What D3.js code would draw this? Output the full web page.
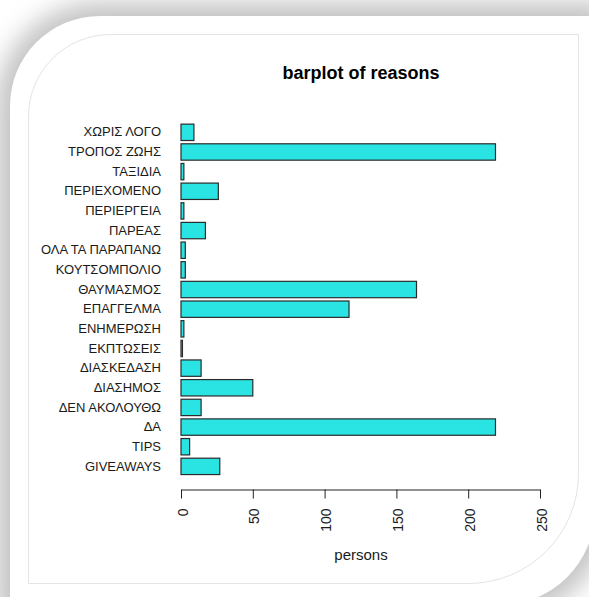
<!DOCTYPE html>
<html><head><meta charset="utf-8">
<script src="https://cdn.jsdelivr.net/npm/d3@7"></script>
<style>body{margin:0;background:#fff}svg{display:block}</style>
</head><body>
<script>
const categories = ["ΧΩΡΙΣ ΛΟΓΟ","ΤΡΟΠΟΣ ΖΩΗΣ","ΤΑΞΙΔΙΑ","ΠΕΡΙΕΧΟΜΕΝΟ","ΠΕΡΙΕΡΓΕΙΑ","ΠΑΡΕΑΣ","ΟΛΑ ΤΑ ΠΑΡΑΠΑΝΩ","ΚΟΥΤΣΟΜΠΟΛΙΟ","ΘΑΥΜΑΣΜΟΣ","ΕΠΑΓΓΕΛΜΑ","ΕΝΗΜΕΡΩΣΗ","ΕΚΠΤΩΣΕΙΣ","ΔΙΑΣΚΕΔΑΣΗ","ΔΙΑΣΗΜΟΣ","ΔΕΝ ΑΚΟΛΟΥΘΩ","ΔΑ","TIPS","GIVEAWAYS"];
const persons = [9,219,2,26,2,17,3,3,164,117,2,1,14,50,14,219,6,27];
const xTicks = [0,50,100,150,200,250];
const title = "barplot of reasons";
const xLabel = "persons";

const W = 589, H = 597;
const svg = d3.select("body").append("svg").attr("width", W).attr("height", H);
const defs = svg.append("defs");
const f = defs.append("filter").attr("id","sh").attr("x","-20%").attr("y","-20%").attr("width","140%").attr("height","140%");
f.append("feGaussianBlur").attr("stdDeviation", 12);

function frame(l, t, r, b, r1, r2) {
  return `M${l},${t+r1} A${r1},${r1} 0 0 1 ${l+r1},${t} L${r},${t} L${r},${b-r2} A${r2},${r2} 0 0 1 ${r-r2},${b} L${l},${b} Z`;
}
// shadow
svg.append("path").attr("d", frame(-4, 2, 609, 619, 104, 109)).attr("fill","#c4c4c4").attr("filter","url(#sh)");
// white card
svg.append("path").attr("d", frame(10, 16, 595, 605, 90, 95)).attr("fill","#fff");
// inner thin border
svg.append("path").attr("d", frame(28.5, 34.5, 578.5, 583.5, 82, 110)).attr("fill","none").attr("stroke","#e4e4e4").attr("stroke-width",1);

const x = d3.scaleLinear().domain([0,250]).range([181,540]);
const y = d3.scaleBand().domain(categories).range([122.5,476.2]).paddingInner(1/6).paddingOuter(1/12);

svg.append("g").selectAll("rect").data(categories).join("rect")
  .attr("x", x(0)).attr("y", d => y(d))
  .attr("width", (d,i) => x(persons[i]) - x(0))
  .attr("height", y.bandwidth())
  .attr("fill","#2ae3e3").attr("stroke","#2b2b2b").attr("stroke-width",1.2);

const ya = svg.append("g").attr("transform", `translate(${x(0)},0)`)
  .call(d3.axisLeft(y).tickSize(0).tickPadding(20));
ya.select(".domain").remove();
ya.selectAll("text").attr("font-family","Liberation Sans, Arial, sans-serif").attr("font-size",13).attr("fill","#1a1a1a");

const xa = svg.append("g").attr("transform", "translate(0,489.5)")
  .call(d3.axisBottom(x).tickValues(xTicks).tickSizeOuter(0).tickSizeInner(9).tickFormat(d3.format("d")));
xa.select(".domain").attr("stroke","#222");
xa.selectAll(".tick line").attr("stroke","#222");
xa.selectAll("text")
  .attr("font-family","Liberation Sans, Arial, sans-serif").attr("font-size",14).attr("fill","#1a1a1a")
  .attr("text-anchor","end").attr("dy",null).attr("y",null)
  .attr("transform","translate(6,19) rotate(-90)");

svg.append("text").attr("x",361).attr("y",79).attr("text-anchor","middle")
  .attr("font-family","Liberation Sans, Arial, sans-serif").attr("font-weight","bold").attr("font-size",18).attr("fill","#000").text(title);
svg.append("text").attr("x",361).attr("y",560).attr("text-anchor","middle")
  .attr("font-family","Liberation Sans, Arial, sans-serif").attr("font-size",15).attr("fill","#1a1a1a").text(xLabel);
</script>
</body></html>
